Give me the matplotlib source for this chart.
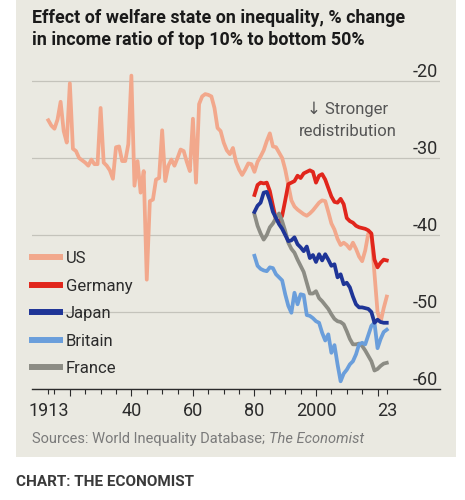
import matplotlib
matplotlib.use("Agg")
import matplotlib.pyplot as plt
from matplotlib.patches import Rectangle
from matplotlib.lines import Line2D

# Datos: % de cambio del ratio de ingresos top 10% / bottom 50%
years_us = list(range(1913, 2024))
us = [-25.1, -25.8, -26.2, -25.0, -22.7, -26.5, -28.0, -20.3, -28.8, -29.1,
      -30.0, -30.3, -30.6, -31.0, -30.2, -30.8, -30.8, -23.5, -30.6, -31.0,
      -31.6, -32.7, -28.6, -28.5, -30.4, -30.4, -28.2, -19.3, -33.6, -30.4,
      -34.5, -31.7, -45.8, -35.6, -35.4, -32.8, -32.6, -26.4, -33.0, -31.0,
      -30.2, -31.0, -30.0, -28.9, -29.1, -30.5, -31.7, -24.9, -33.2, -23.0,
      -22.0, -21.7, -21.8, -22.0, -23.5, -26.1, -26.5, -28.0, -29.0, -29.5,
      -28.7, -30.5, -31.5, -32.2, -31.5, -30.7, -30.8, -31.8, -30.5, -29.8,
      -29.0, -27.8, -26.8, -28.5, -28.6, -29.3, -30.0, -31.5, -33.5, -35.5,
      -36.3, -36.7, -37.0, -37.3, -37.5, -37.2, -36.8, -36.3, -35.8, -35.5,
      -35.6, -37.0, -38.5, -39.3, -40.5, -41.3, -41.0, -41.3, -41.8, -41.0,
      -41.8, -42.8, -43.4, -42.0, -39.8, -39.9, -45.0, -50.0, -51.3, -49.5,
      -48.0]

years_80 = list(range(1980, 2024))
germany = [-34.8, -33.5, -33.2, -33.3, -33.2, -34.3, -36.2, -38.0, -38.3, -37.5,
           -35.5, -33.4, -33.2, -33.0, -32.3, -32.6, -32.0, -31.8, -31.6, -31.8,
           -33.2, -32.3, -32.1, -32.8, -33.9, -35.0, -35.7, -35.8, -35.3, -36.0,
           -37.8, -38.2, -38.4, -38.8, -39.0, -39.1, -39.2, -39.4, -39.8, -43.2,
           -44.2, -43.6, -43.2, -43.3]
japan = [-37.0, -36.2, -35.8, -34.5, -34.4, -35.5, -37.0, -37.8, -38.6, -39.2,
         -40.0, -40.8, -40.7, -40.3, -41.2, -41.6, -42.1, -41.5, -43.0, -42.6,
         -43.5, -42.5, -43.3, -42.5, -43.2, -44.0, -43.8, -45.5, -45.1, -46.4,
         -46.2, -46.8, -48.0, -49.0, -49.4, -49.4, -49.5, -49.6, -50.0, -51.4,
         -51.0, -51.3, -51.4, -51.4]
britain = [-42.7, -44.0, -44.4, -44.6, -44.7, -44.2, -44.3, -45.1, -45.5, -45.9,
           -47.7, -49.2, -50.1, -47.5, -49.0, -47.7, -47.8, -50.4, -50.5, -50.8,
           -51.2, -51.4, -52.7, -53.7, -52.9, -55.3, -54.3, -56.8, -59.0, -58.0,
           -57.5, -56.8, -56.4, -55.5, -54.2, -54.0, -54.2, -53.0, -51.8, -51.4,
           -54.7, -53.5, -52.6, -52.3]
france = [-37.3, -38.8, -39.8, -40.6, -40.0, -39.0, -38.5, -37.8, -37.2, -38.2,
          -39.5, -41.0, -41.8, -42.3, -43.2, -44.0, -44.8, -46.2, -47.6, -47.6,
          -47.3, -48.2, -48.6, -49.1, -49.6, -50.3, -50.9, -51.2, -51.3, -51.6,
          -52.5, -53.5, -54.2, -54.2, -54.1, -54.4, -55.0, -55.7, -56.4, -57.6,
          -57.4, -57.0, -56.7, -56.6]

names = ["US", "Germany", "Japan", "Britain", "France"]
colors = {"US": "#f2a88c", "Germany": "#e1261c", "Japan": "#1f3597",
          "Britain": "#6a9edb", "France": "#8c8c84"}

x_ticks = [1913, 1920, 1940, 1960, 1980, 2000, 2020, 2023]
x_labels = ["1913", "", "40", "60", "80", "2000", "", "23"]
y_ticks = [-20, -30, -40, -50, -60]
y_labels = ["-20", "-30", "-40", "-50", "-60"]

BG = "#eae9e1"
W, H = 465, 500

plt.rcParams['font.family'] = ['Roboto', 'DejaVu Sans']

fig = plt.figure(figsize=(W / 100, H / 100), dpi=100)
fig.patch.set_facecolor("white")
fig.patches.append(Rectangle((16 / W, 1 - 457 / H), 440 / W, 457 / H,
                             transform=fig.transFigure, facecolor=BG,
                             edgecolor="none", zorder=-10))

ax = fig.add_axes([32 / W, 1 - 389 / H, 408 / W, (389 - 66) / H])
ax.set_facecolor("none")
ax.set_xlim(1907.7, 2040.3)
ax.set_ylim(-60, -60 + (389 - 66) / 7.7)

# lineas (US al fondo)
lw = 2.7
ax.plot(years_us, us, color=colors["US"], lw=lw, solid_joinstyle="round", zorder=2)
ax.plot(years_80, germany, color=colors["Germany"], lw=lw, solid_joinstyle="round", zorder=3)
ax.plot(years_80, france, color=colors["France"], lw=lw, solid_joinstyle="round", zorder=3)
ax.plot(years_80, britain, color=colors["Britain"], lw=lw, solid_joinstyle="round", zorder=3)
ax.plot(years_80, japan, color=colors["Japan"], lw=lw, solid_joinstyle="round", zorder=4)

# ejes
for s in ["top", "left", "right"]:
    ax.spines[s].set_visible(False)
ax.spines["bottom"].set_color("#2b2b2b")
ax.spines["bottom"].set_linewidth(1.0)
ax.spines["bottom"].set_zorder(5)

ax.set_yticks(y_ticks, labels=y_labels)
ax.yaxis.tick_right()
ax.yaxis.grid(True, color="#c4c3bb", lw=0.9)
ax.set_axisbelow(True)
ax.tick_params(axis="y", length=0, pad=-1.5, labelsize=13, labelcolor="#2b2b2b")
for t in ax.yaxis.get_major_ticks():
    t.label2.set_horizontalalignment("right")
    t.label2.set_verticalalignment("bottom")

ax.set_xticks(x_ticks, labels=x_labels)
ax.set_xticks([y for y in range(1915, 2021, 5) if y % 20 != 0], minor=True)
ax.tick_params(axis="x", which="both", length=3.6, width=0.8, color="#2b2b2b",
               pad=6.0, labelsize=13, labelcolor="#2b2b2b")
for t in ax.xaxis.get_major_ticks():
    if t.get_loc() % 20 == 0:
        t.tick1line.set_markersize(5.2)

# leyenda
handles = [Line2D([], [], color=colors[n], lw=4.3) for n in names]
ax.legend(handles, names, loc="upper left", bbox_to_anchor=(32 / W, 1 - 251 / H),
          bbox_transform=fig.transFigure, frameon=False, fontsize=12,
          handlelength=1.68, handletextpad=0.36, labelspacing=0.75,
          borderpad=0, borderaxespad=0, labelcolor="#2b2b2b")

# anotacion
fig.text(348 / W, 1 - 102 / H, "\u2193 Stronger\nredistribution", ha="center", va="top",
         fontsize=12, color="#555555", linespacing=1.55)

# titulo
fig.text(32 / W, 1 - 22.7 / H, "Effect of welfare state on inequality, % change",
         fontsize=12.9, fontweight="bold", color="#1a1a1a", va="baseline")
fig.text(32 / W, 1 - 45 / H, "in income ratio of top 10% to bottom 50%",
         fontsize=12.9, fontweight="bold", color="#1a1a1a", va="baseline")

# fuente
src = fig.text(32 / W, 1 - 443 / H, "Sources: World Inequality Database; ",
               fontsize=10.5, color="#7a7a7a", va="baseline")
fig.canvas.draw()
bb = src.get_window_extent()
fig.text(bb.x1 / W, 1 - 443 / H, "The Economist", fontsize=10.5, color="#7a7a7a",
         va="baseline", style="italic")

fig.text(16 / W, 1 - 486 / H, "CHART: THE ECONOMIST", fontsize=11, fontweight="bold",
         color="#3a3a3a", va="baseline")

plt.savefig("out.png", dpi=100)
